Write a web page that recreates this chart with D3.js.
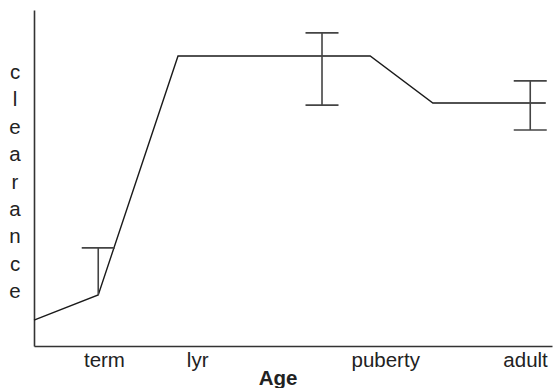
<!DOCTYPE html>
<html>
<head>
<meta charset="utf-8">
<script src="https://cdn.jsdelivr.net/npm/d3@7"></script>
<style>
  html, body { margin: 0; padding: 0; background: #fff; }
  svg { display: block; }
  text { font-family: "Liberation Sans", Arial, Helvetica, sans-serif; fill: #222; }
</style>
</head>
<body>
<svg id="chart" width="557" height="388"></svg>
<script>
// Age axis runs 0..100 (relative developmental age), clearance 0..100 (relative)
const ageLabels = ["term", "lyr", "puberty", "adult"];
const agePositions = [13.5, 31.5, 67.8, 94.8];

const curveAge = [0, 12.4, 27.8, 64.9, 77.0, 98.8];
const curveClearance = [7.7, 15.2, 86.3, 86.3, 72.3, 72.3];

const errAge = [12.4, 55.6, 95.8];
const errLow = [15.2, 71.7, 64.3];
const errHigh = [29.2, 93.2, 78.9];
const errLowCap = [false, true, true];

const yLabel = "clearance";
const xLabel = "Age";

const svg = d3.select("#chart");
const margin = { left: 34, right: 5, top: 10, bottom: 42 };
const W = 557, H = 388;
const fontSize = 20.5;

const x = d3.scaleLinear().domain([0, 100]).range([margin.left, W - margin.right]);
const y = d3.scaleLinear().domain([0, 100]).range([H - margin.bottom, margin.top]);

// axes: bare lines, category labels only on x
const xAxis = d3.axisBottom(x)
  .tickValues(agePositions)
  .tickFormat((d, i) => ageLabels[i])
  .tickSize(0)
  .tickPadding(6);

const gx = svg.append("g")
  .attr("transform", `translate(0,${y(0)})`)
  .call(xAxis);
gx.select(".domain").attr("stroke", "#333").attr("stroke-width", 1.6);
gx.selectAll("text")
  .attr("font-size", fontSize)
  .attr("font-family", "Liberation Sans, Arial, sans-serif")
  .attr("fill", "#222");

const gy = svg.append("g")
  .attr("transform", `translate(${x(0)},0)`)
  .call(d3.axisLeft(y).tickValues([]).tickSizeOuter(0));
gy.select(".domain").attr("stroke", "#333").attr("stroke-width", 1.6);

// clearance curve
const pts = curveAge.map((a, i) => [a, curveClearance[i]]);
svg.append("path")
  .datum(pts)
  .attr("fill", "none")
  .attr("stroke", "#1a1a1a")
  .attr("stroke-width", 1.4)
  .attr("d", d3.line().x(d => x(d[0])).y(d => y(d[1])));

// error bars
const capHalf = 16.5;
const eb = svg.append("g").attr("stroke", "#444").attr("stroke-width", 1.6);
errAge.forEach((a, i) => {
  const cx = x(a);
  eb.append("line").attr("x1", cx).attr("x2", cx).attr("y1", y(errLow[i])).attr("y2", y(errHigh[i]));
  eb.append("line").attr("x1", cx - capHalf).attr("x2", cx + capHalf).attr("y1", y(errHigh[i])).attr("y2", y(errHigh[i]));
  if (errLowCap[i]) {
    eb.append("line").attr("x1", cx - capHalf).attr("x2", cx + capHalf).attr("y1", y(errLow[i])).attr("y2", y(errLow[i]));
  }
});

// stacked vertical y label
svg.append("g").selectAll("text")
  .data(yLabel.split(""))
  .join("text")
  .attr("x", 15)
  .attr("y", (d, i) => 79 + i * 27.4)
  .attr("text-anchor", "middle")
  .attr("font-size", fontSize)
  .text(d => d);

// x title
svg.append("text")
  .attr("x", 278)
  .attr("y", 385)
  .attr("text-anchor", "middle")
  .attr("font-size", fontSize)
  .attr("font-weight", "bold")
  .text(xLabel);
</script>
</body>
</html>
